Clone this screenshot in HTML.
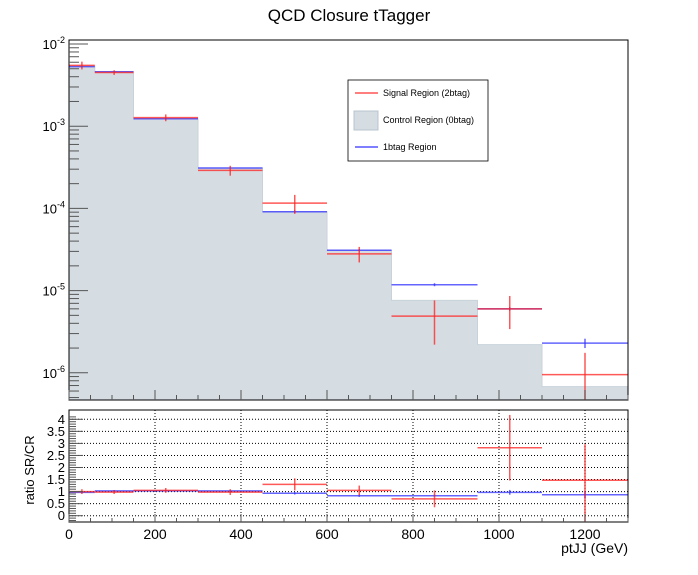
<!DOCTYPE html>
<html><head><meta charset="utf-8"><style>
body{margin:0;background:#fff;}
svg{display:block;font-family:"Liberation Sans",sans-serif;}
</style></head><body>
<svg id="c" width="698" height="575" viewBox="0 0 698 575"></svg>
<script>
const binEdges=[0,60,150,300,450,600,750,950,1100,1300];
const crVals=[5.4e-3,4.6e-3,1.23e-3,3.1e-4,9.1e-5,3.1e-5,7.6e-6,2.2e-6,6.8e-7];
const srVals=[5.5e-3,4.5e-3,1.27e-3,2.9e-4,1.16e-4,2.8e-5,4.9e-6,6.0e-6,9.5e-7];
const srErrs=[0.6e-3,0.3e-3,0.12e-3,0.4e-4,0.3e-4,0.6e-5,2.7e-6,2.6e-6,8.0e-7];
const b1Vals=[5.3e-3,4.6e-3,1.23e-3,3.1e-4,9.1e-5,3.1e-5,1.18e-5,6.0e-6,2.3e-6];
const b1Errs=[0.1e-3,0.1e-3,0.03e-3,0.05e-4,0.04e-4,0.1e-5,0.05e-5,0.3e-6,0.3e-6];
const ratioSR=[1.0,0.98,1.05,0.98,1.30,1.05,0.70,2.82,1.47];
const ratioSRErr=[0.1,0.08,0.1,0.12,0.25,0.2,0.35,1.36,1.5];
const ratioB1=[0.97,1.03,1.03,1.03,0.93,0.83,0.83,0.97,0.87];
const ratioB1Err=[0.03,0.03,0.03,0.04,0.05,0.05,0.04,0.1,0.15];
const xTicks=[0,200,400,600,800,1000,1200];
const ratioTicks=[0,0.5,1,1.5,2,2.5,3,3.5,4];
const ratioTickLabels=["0","0.5","1","1.5","2","2.5","3","3.5","4"];
const decades=[-2,-3,-4,-5,-6];

const svg=document.getElementById('c');const NS='http://www.w3.org/2000/svg';
function mk(t,a,p,name){const e=document.createElementNS(NS,t);for(const k in a)e.setAttribute(k,a[k]);


(p||svg).appendChild(e);return e;}
const L=69,R=628,T1=40,B1=400,T2=410,B2=522;
const X=v=>L+(v-0)*(R-L)/1300;
const YL=v=>44+(-2-Math.log10(v))*82.2;
const YR=v=>515.7-v*24.1;
const clampT=y=>Math.max(T1,Math.min(B1,y));
// title
const t=mk('text',{x:349,y:21,'font-size':17,'text-anchor':'middle',fill:'#000'},svg,'chart-title');t.textContent='QCD Closure tTagger';
// top frame fill
const g1=mk('g',{},svg,'main-pad');
let d='M'+X(0)+','+B1;
for(let i=0;i<crVals.length;i++){d+=' L'+X(binEdges[i])+','+clampT(YL(crVals[i]))+' L'+X(binEdges[i+1])+','+clampT(YL(crVals[i]));}
d+=' L'+X(1300)+','+B1+' Z';
mk('path',{d:d,fill:'#d5dde3',stroke:'#c8d2da','stroke-width':1},g1,'control-region-hist');
function series(vals,errs,col,name,g,Y,clip){
 for(let i=0;i<vals.length;i++){
  const x0=X(binEdges[i]),x1=X(binEdges[i+1]),xm=X((binEdges[i]+binEdges[i+1])/2);
  const y=clip(Y(vals[i]));
  mk('line',{x1:x0,x2:x1,y1:y,y2:y,stroke:col,'stroke-width':1.5,'stroke-opacity':0.75},g,name+'-bin-'+i);
  const ylo=vals[i]-errs[i]>0?clip(Y(vals[i]-errs[i])):clip(9999);
  mk('line',{x1:xm,x2:xm,y1:clip(Y(vals[i]+errs[i])),y2:ylo,stroke:col,'stroke-width':1.5,'stroke-opacity':0.75},g,name+'-err-'+i);
 }
}
series(b1Vals,b1Errs,'#3030ff','1btag',g1,YL,clampT);
series(srVals,srErrs,'#ff2020','signal',g1,YL,clampT);
mk('rect',{x:L,y:T1,width:R-L,height:B1-T1,fill:'none',stroke:'#000','stroke-width':1},g1,'main-frame');
// log ticks
decades.forEach(p=>{
 const y=YL(Math.pow(10,p));
 mk('line',{x1:L,x2:L+19,y1:y,y2:y,stroke:'#555','stroke-width':1},g1,'y-major-tick');
 const tx=mk('text',{x:L-4,y:y+5,'font-size':13,'text-anchor':'end'},g1,'y-tick-label');
 tx.innerHTML='10<tspan dy="-6" font-size="9">'+p+'</tspan>';
 for(let m=2;m<=9;m++){const ym=YL(m*Math.pow(10,p));if(ym<T1||ym>B1)continue;
  mk('line',{x1:L,x2:L+10,y1:ym,y2:ym,stroke:'#555','stroke-width':1},g1,'y-minor-tick');}
});
for(let m=5;m<=9;m++){const ym=YL(m*1e-7);if(ym<B1)mk('line',{x1:L,x2:L+10,y1:ym,y2:ym,stroke:'#555'},g1,'y-minor-tick');}
for(let v=0;v<=1300;v+=50){const x=X(v);const maj=v%200===0;
 mk('line',{x1:x,x2:x,y1:B1,y2:B1-(maj?10:5),stroke:'#555'},g1,'x-tick');}
// legend
const lg=mk('g',{},svg,'legend');
mk('rect',{x:348,y:80,width:140,height:81,fill:'#fff',stroke:'#000','stroke-width':0.8},lg,'legend-box');
mk('line',{x1:355,x2:378,y1:93,y2:93,stroke:'#ff3030','stroke-width':1.2},lg,'legend-signal-line');
mk('rect',{x:354,y:111,width:24,height:19,fill:'#d5dde3',stroke:'#b8c4ce'},lg,'legend-control-swatch');
mk('line',{x1:355,x2:378,y1:147,y2:147,stroke:'#3030ff','stroke-width':1.2},lg,'legend-1btag-line');
[['Signal Region (2btag)',96],['Control Region (0btag)',123],['1btag Region',150]].forEach((e,i)=>{
 const tx=mk('text',{x:383,y:e[1],'font-size':9},lg,'legend-entry');tx.textContent=e[0];});
// ratio pad
const g2=mk('g',{},svg,'ratio-pad');
const clampB=y=>Math.max(T2,Math.min(B2,y));
ratioTicks.forEach(v=>{mk('line',{x1:L,x2:R,y1:YR(v),y2:YR(v),stroke:'#000','stroke-width':1,'stroke-dasharray':'1,2'},g2,'ratio-grid-y');});
xTicks.slice(1).forEach(v=>{mk('line',{x1:X(v),x2:X(v),y1:T2,y2:B2,stroke:'#000','stroke-width':1,'stroke-dasharray':'1,2'},g2,'ratio-grid-x');});
series(ratioB1,ratioB1Err,'#3030ff','ratio-1btag',g2,YR,clampB);
series(ratioSR,ratioSRErr,'#ff2020','ratio-signal',g2,YR,clampB);
mk('rect',{x:L,y:T2,width:R-L,height:B2-T2,fill:'none',stroke:'#000','stroke-width':1},g2,'ratio-frame');
ratioTicks.forEach((v,i)=>{const y=YR(v);
 mk('line',{x1:L,x2:L+14,y1:y,y2:y,stroke:'#555'},g2,'ratio-y-tick');
 const tx=mk('text',{x:L-4,y:y+4.5,'font-size':13,'text-anchor':'end'},g2,'ratio-tick-label');tx.textContent=ratioTickLabels[i];});
for(let v=-0.2;v<=4.2;v+=0.1){const y=YR(v);mk('line',{x1:L,x2:L+7,y1:y,y2:y,stroke:'#555'},g2,'ratio-y-minor');}
for(let v=0;v<=1300;v+=50){const x=X(v);const maj=v%200===0;
 mk('line',{x1:x,x2:x,y1:B2,y2:B2-(maj?8:4),stroke:'#555'},g2,'ratio-x-tick');}
xTicks.forEach(v=>{const tx=mk('text',{x:X(v),y:539,'font-size':14,'text-anchor':'middle'},g2,'x-tick-label');tx.textContent=v;});
const xt=mk('text',{x:628,y:553,'font-size':14,'text-anchor':'end'},svg,'x-axis-title');xt.textContent='ptJJ (GeV)';
const yt=mk('text',{x:0,y:0,'font-size':13,'text-anchor':'middle',transform:'translate(34,470) rotate(-90)'},svg,'ratio-y-axis-title');yt.textContent='ratio SR/CR';
</script>
</body></html>
